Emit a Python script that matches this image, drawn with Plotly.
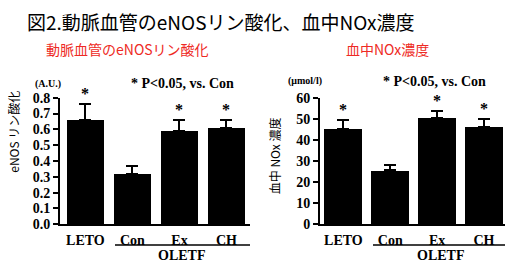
import plotly.graph_objects as go

categories = ["LETO", "Con", "Ex", "CH"]
enos = [0.66, 0.32, 0.59, 0.61]
enos_err = [0.10, 0.05, 0.07, 0.05]
nox = [45.3, 25.6, 50.3, 46.3]
nox_err = [4.3, 2.7, 3.6, 3.4]
sig = [True, False, True, True]

W, H = 510, 272
def px(x): return x / W
def py(y): return 1 - y / H

SERIF = "Liberation Serif, Times New Roman, serif"
JP = "Noto Sans CJK JP, sans-serif"

fig = go.Figure()
idx = list(range(len(categories)))
fig.add_trace(go.Bar(x=idx, y=enos, width=0.8, marker=dict(color="black", line=dict(width=0)),
                     error_y=dict(type="data", symmetric=False, array=enos_err, arrayminus=[0]*4,
                                  color="black", thickness=2, width=6),
                     xaxis="x", yaxis="y", showlegend=False))
fig.add_trace(go.Bar(x=idx, y=nox, width=0.81, marker=dict(color="black", line=dict(width=0)),
                     error_y=dict(type="data", symmetric=False, array=nox_err, arrayminus=[0]*4,
                                  color="black", thickness=2, width=6),
                     xaxis="x2", yaxis="y2", showlegend=False))

ydom = [py(230), py(96)]
common_x = dict(tickmode="array", tickvals=idx, ticktext=categories, showline=True, linewidth=2,
                linecolor="black", ticks="", showgrid=False, zeroline=False, ticklabelstandoff=2,
                tickfont=dict(family=SERIF, size=14, color="black", weight="bold"))
common_y = dict(showline=True, linewidth=2, linecolor="black", ticks="outside", ticklen=5, tickwidth=2,
                tickcolor="black", showgrid=False, zeroline=False,
                tickfont=dict(family=SERIF, size=14, color="black", weight="bold"))

fig.update_layout(
    width=W, height=H, margin=dict(l=0, r=0, t=0, b=0),
    paper_bgcolor="white", plot_bgcolor="white", bargap=0,
    xaxis=dict(domain=[px(60), px(250)], range=[-0.54, 3.5], anchor="y", **common_x),
    yaxis=dict(domain=ydom, range=[0, 0.8], dtick=0.1, tickformat=".1f", anchor="x", **common_y),
    xaxis2=dict(domain=[px(320), px(505)], range=[-0.5, 3.45], anchor="y2", **common_x),
    yaxis2=dict(domain=ydom, range=[0, 60], dtick=10, anchor="x2", **common_y),
)

ann = []
def text(x, y, s, size, color="black", family=JP, bold=False, angle=0, xanchor="center"):
    ann.append(dict(x=px(x), y=py(y), xref="paper", yref="paper", text=s, showarrow=False,
                    xanchor=xanchor, yanchor="middle", textangle=angle,
                    font=dict(family=family, size=size, color=color, weight="bold" if bold else "normal")))

text(25, 15, "図2.動脈血管のeNOSリン酸化、血中NOx濃度", 19, xanchor="left")
text(127, 44, "動脈血管のeNOSリン酸化", 14, color="#ee2a24")
text(387, 44, "血中NOx濃度", 14, color="#ee2a24")
text(48, 81, "(A.U.)", 10, family=SERIF, bold=True)
text(305, 78, "(μmol/l)", 10, family=SERIF, bold=True)
text(182, 81, "* P<0.05, vs. Con", 14, family=SERIF, bold=True)
text(434, 79, "* P<0.05, vs. Con", 14, family=SERIF, bold=True)
text(14, 132, "eNOS リン酸化", 12, angle=-90)
text(274, 158, "血中 NOx 濃度", 12, angle=-90)
text(181, 263, "OLETF", 14, family=SERIF, bold=True)
text(440, 263, "OLETF", 14, family=SERIF, bold=True)

for i in idx:
    if sig[i]:
        ann.append(dict(x=i, y=enos[i] + enos_err[i], xref="x", yref="y", text="*", showarrow=False,
                        yanchor="bottom", yshift=0, font=dict(family=SERIF, size=16, color="black", weight="bold")))
        ann.append(dict(x=i, y=nox[i] + nox_err[i], xref="x2", yref="y2", text="*", showarrow=False,
                        yanchor="bottom", yshift=0, font=dict(family=SERIF, size=16, color="black", weight="bold")))
fig.update_layout(annotations=ann)

fig.add_shape(type="line", xref="paper", yref="paper", x0=px(115), x1=px(250), y0=py(252), y1=py(252),
              line=dict(color="black", width=1.5))
fig.add_shape(type="line", xref="paper", yref="paper", x0=px(373), x1=px(505), y0=py(252), y1=py(252),
              line=dict(color="black", width=1.5))

fig.write_html("out.html")
